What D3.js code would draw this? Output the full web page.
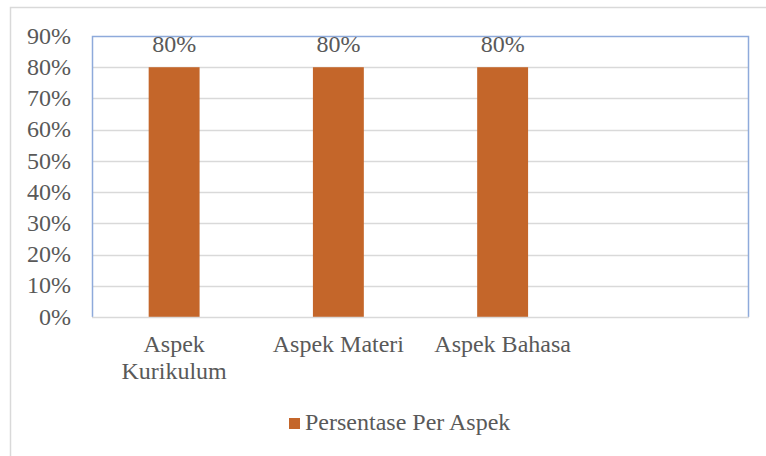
<!DOCTYPE html>
<html>
<head>
<meta charset="utf-8">
<script src="https://cdn.jsdelivr.net/npm/d3@7"></script>
<style>
  body { margin: 0; background: #fff; }
  svg text { font-family: 'Liberation Serif', 'DejaVu Serif', serif !important; fill: #595959 !important; font-size: 24px !important; }
</style>
</head>
<body>
<div id="viz"></div>
<script>
// data
var categories = ["Aspek Kurikulum", "Aspek Materi", "Aspek Bahasa", ""];
var values = [0.8, 0.8, 0.8, null];
var yTicks = [0, 0.1, 0.2, 0.3, 0.4, 0.5, 0.6, 0.7, 0.8, 0.9];
var seriesName = "Persentase Per Aspek";

var W = 766, H = 456;
var margin = {top: 36, right: 17, bottom: 139, left: 92},
    width = W - margin.left - margin.right,
    height = H - margin.top - margin.bottom;

var svg = d3.select("#viz").append("svg")
    .attr("width", W)
    .attr("height", H);

// outer chart border
svg.append("rect")
    .attr("x", 10.5).attr("y", 7.5)
    .attr("width", W).attr("height", H)
    .attr("fill", "none")
    .attr("stroke", "#d9d9d9")
    .attr("stroke-width", 1.5);

var xScale = d3.scaleBand()
    .domain(categories.map(function(d, i) { return i; }))
    .range([0, width])
    .paddingInner(0.69)
    .paddingOuter(0.345);

var yScale = d3.scaleLinear()
    .domain([0, 0.9])
    .range([height, 0]);

var chart = svg.append("g")
    .attr("transform", "translate(" + margin.left + "," + margin.top + ")");

// gridlines
chart.append("g")
    .selectAll("line")
    .data(yTicks.slice(1, -1))
    .enter().append("line")
    .attr("x1", 0).attr("x2", width)
    .attr("y1", function(d) { return Math.round(yScale(d)) + 0.5; })
    .attr("y2", function(d) { return Math.round(yScale(d)) + 0.5; })
    .attr("stroke", "#d9d9d9")
    .attr("stroke-width", 1.5);

var barData = values.map(function(v, i) { return {i: i, v: v}; })
    .filter(function(d) { return d.v != null; });

// bars
chart.append("g")
    .selectAll("rect")
    .data(barData)
    .enter().append("rect")
    .attr("x", function(d) { return xScale(d.i); })
    .attr("width", xScale.bandwidth())
    .attr("y", function(d) { return yScale(d.v); })
    .attr("height", function(d) { return height - yScale(d.v); })
    .attr("fill", "#c4662a");

// plot area border (blue) and bottom axis line
chart.append("path")
    .attr("d", "M0.5," + height + "V0.5H" + (width - 0.5) + "V" + height)
    .attr("fill", "none")
    .attr("stroke", "#8eaadb")
    .attr("stroke-width", 1.5);

chart.append("line")
    .attr("x1", 0).attr("x2", width)
    .attr("y1", height + 0.5).attr("y2", height + 0.5)
    .attr("stroke", "#d9d9d9")
    .attr("stroke-width", 1.5);

// data labels
chart.append("g")
    .selectAll("text")
    .data(barData)
    .enter().append("text")
    .attr("x", function(d) { return xScale(d.i) + xScale.bandwidth() / 2; })
    .attr("y", function(d) { return yScale(d.v) - 15; })
    .attr("text-anchor", "middle")
    .text(function(d) { return d3.format(".0%")(d.v); });

// y axis labels
var yAxis = d3.axisLeft(yScale)
    .tickValues(yTicks)
    .tickFormat(d3.format(".0%"))
    .tickSize(0)
    .tickPadding(21);

var yG = chart.append("g").call(yAxis);
yG.select(".domain").remove();
yG.selectAll("text").attr("dy", "0.3em");

// x axis labels (wrapping)
var xG = chart.append("g")
    .attr("transform", "translate(0," + height + ")");
categories.forEach(function(c, i) {
    if (!c) return;
    var cx = xScale(i) + xScale.bandwidth() / 2;
    var lines = (c.length > 12) ? c.split(" ") : [c];
    var t = xG.append("text")
        .attr("text-anchor", "middle");
    lines.forEach(function(l, k) {
        t.append("tspan")
            .attr("x", cx)
            .attr("y", 35 + k * 27)
            .text(l);
    });
});

// legend
var legend = svg.append("g")
    .attr("transform", "translate(289,418)");
legend.append("rect")
    .attr("width", 11).attr("height", 11)
    .attr("fill", "#c4662a");
legend.append("text")
    .attr("x", 16).attr("y", 12)
    .text(seriesName);
</script>
</body>
</html>
